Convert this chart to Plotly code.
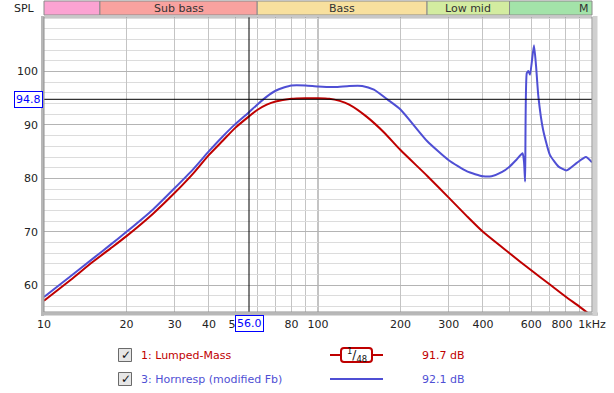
import plotly.graph_objects as go
import math

# ---------------- data ----------------
red_freq = [10, 12.5, 15, 17.5, 20, 25, 30, 35, 40, 45, 50, 56, 60, 65, 70, 80, 90, 100,
            110, 120, 130, 150, 175, 200, 250, 300, 350, 400, 500, 600, 700, 800, 900, 1000]
red_db = [57.1, 61.0, 64.3, 66.9, 69.2, 73.4, 77.3, 80.9, 84.4, 87.1, 89.5, 91.6, 92.8, 93.8,
          94.4, 94.9, 95.0, 95.0, 94.9, 94.5, 93.8, 91.6, 88.5, 85.3, 80.5, 76.4, 72.9, 70.0,
          66.0, 62.8, 60.2, 57.9, 56.0, 54.2]

blue_freq = [10, 12.5, 15, 17.5, 20, 25, 30, 35, 40, 45, 50, 56, 60, 65, 70, 75, 80, 90, 100,
             115, 130, 145, 160, 180, 200, 250, 300, 350, 400, 430, 470, 500, 530, 558,
             565, 570, 578, 586, 594, 614, 625, 637, 663, 702, 755, 808, 880, 950, 1000]
blue_db = [57.8, 61.7, 64.9, 67.6, 70.0, 74.2, 78.2, 81.7, 85.1, 87.9, 90.2, 92.4, 93.8, 95.3,
           96.4, 97.0, 97.4, 97.4, 97.2, 97.1, 97.3, 97.3, 96.6, 94.7, 92.9, 87.0, 83.4, 81.3,
           80.4, 80.4, 81.2, 82.2, 83.5, 84.7, 83.0, 79.4, 99.7, 100.1, 99.4, 104.9, 101.0,
           95.4, 89.1, 84.4, 82.2, 81.5, 82.9, 84.0, 83.0]

x_tick_vals = [10, 20, 30, 40, 50, 80, 100, 200, 300, 400, 600, 800, 1000]
x_tick_text = ["10", "20", "30", "40", "50", "80", "100", "200", "300", "400", "600",
               "800\u2007", "1kHz"]
x_grid_only = [60, 70, 90, 500, 700, 900]
y_tick_vals = [60, 70, 80, 90, 100]
y_tick_text = ["60", "70", "80", "90", "100"]

band_names = ["", "Sub bass", "Bass", "Low mid", "M"]
band_edges = [10, 16, 60, 250, 500, 1000]
band_colors = ["#fba3d2", "#f9a29f", "#f8e09e", "#d3eca0", "#a3e3a9"]

legend_labels = ["1: Lumped-Mass", "3: Hornresp (modified Fb)"]
legend_values = ["91.7 dB", "92.1 dB"]

cursor_freq = 56.0
cursor_db = 94.8

RED = "#bf0000"
BLUE = "#4f4fd4"
FONT = "DejaVu Sans"

# ---------------- geometry ----------------
W, H = 614, 393
L, R, T, B = 44, 592, 17, 312


def px(x):
    return (x - L) / (R - L)


def py(y):
    return (B - y) / (B - T)


def fx(f):
    return (math.log10(f) - 1) / 2


fig = go.Figure()
fig.add_trace(go.Scatter(x=red_freq, y=red_db, mode="lines",
                         line=dict(color=RED, width=2, shape="spline", smoothing=0.6),
                         hoverinfo="skip", showlegend=False))
fig.add_trace(go.Scatter(x=blue_freq, y=blue_db, mode="lines",
                         line=dict(color=BLUE, width=2, shape="spline", smoothing=0.5),
                         hoverinfo="skip", showlegend=False))

shapes = []
ann = []

# darker 100 Hz line and cursor lines
shapes.append(dict(type="line", xref="paper", yref="paper", x0=fx(100), x1=fx(100), y0=0, y1=1,
                   line=dict(color="#888888", width=1), layer="below"))
shapes.append(dict(type="line", xref="paper", yref="y", x0=0, x1=1, y0=cursor_db, y1=cursor_db,
                   line=dict(color="black", width=1)))
shapes.append(dict(type="line", xref="paper", yref="paper", x0=fx(cursor_freq), x1=fx(cursor_freq),
                   y0=0, y1=1, line=dict(color="black", width=1)))

# frame
shapes.append(dict(type="line", xref="paper", yref="paper", x0=px(42.5), x1=px(42.5), y0=py(316), y1=py(16),
                   line=dict(color="#b8b8b8", width=3)))
shapes.append(dict(type="line", xref="paper", yref="paper", x0=px(41), x1=px(598), y0=py(314), y1=py(314),
                   line=dict(color="#b8b8b8", width=3)))
shapes.append(dict(type="line", xref="paper", yref="paper", x0=px(595), x1=px(595), y0=py(316), y1=py(16),
                   line=dict(color="#d0d0d0", width=5)))
shapes.append(dict(type="rect", xref="paper", yref="paper", x0=0, x1=1, y0=0, y1=1,
                   line=dict(color="#909090", width=1)))

# band
for i, name in enumerate(band_names):
    x0 = fx(band_edges[i])
    x1 = fx(band_edges[i + 1])
    shapes.append(dict(type="rect", xref="paper", yref="paper", x0=x0, x1=x1, y0=py(15), y1=py(1),
                       fillcolor=band_colors[i], line=dict(color="#8a8a8a", width=1)))
    if name:
        if name == "M":
            ann.append(dict(xref="paper", yref="paper", x=px(591), y=py(8), text=name, showarrow=False,
                            xanchor="right", yanchor="middle", font=dict(family=FONT, size=11, color="#333")))
        else:
            ann.append(dict(xref="paper", yref="paper", x=(x0 + x1) / 2, y=py(8), text=name, showarrow=False,
                            xanchor="center", yanchor="middle", font=dict(family=FONT, size=11, color="#333")))
ann.append(dict(xref="paper", yref="paper", x=px(37), y=py(8), text="SPL", showarrow=False,
                xanchor="right", yanchor="middle", font=dict(family=FONT, size=11, color="#222")))

# cursor boxes
ann.append(dict(xref="paper", yref="y", x=px(43), y=cursor_db, text="%.1f" % cursor_db, showarrow=False,
                xanchor="right", yanchor="middle", bgcolor="white", bordercolor="#0000ff", borderwidth=1,
                borderpad=1, font=dict(family=FONT, size=11, color="#0000ff")))
ann.append(dict(xref="paper", yref="paper", x=fx(cursor_freq), y=py(315), text="%.1f" % cursor_freq,
                showarrow=False, xanchor="center", yanchor="top", bgcolor="white", bordercolor="#0000ff",
                borderwidth=1, borderpad=1, font=dict(family=FONT, size=11, color="#0000ff")))

# legend
rows = [355, 379]
colors = [RED, BLUE]
for i in range(2):
    yc = rows[i]
    shapes.append(dict(type="rect", xref="paper", yref="paper", x0=px(118.5), x1=px(131.5),
                       y0=py(yc + 6.5), y1=py(yc - 6.5), fillcolor="#e6e6e6",
                       line=dict(color="#6a6a6a", width=1)))
    ann.append(dict(xref="paper", yref="paper", x=px(125.5), y=py(yc), text="<b>✓</b>", showarrow=False,
                    xanchor="center", yanchor="middle", font=dict(family=FONT, size=12, color="#111")))
    ann.append(dict(xref="paper", yref="paper", x=px(139), y=py(yc), text=legend_labels[i], showarrow=False,
                    xanchor="left", yanchor="middle", font=dict(family=FONT, size=11, color=colors[i])))
    ann.append(dict(xref="paper", yref="paper", x=px(467), y=py(yc), text=legend_values[i], showarrow=False,
                    xanchor="right", yanchor="middle", font=dict(family=FONT, size=11, color=colors[i])))
    shapes.append(dict(type="line", xref="paper", yref="paper", x0=px(330), x1=px(383), y0=py(yc), y1=py(yc),
                       line=dict(color=colors[i], width=2)))

# smoothing badge (rounded box)
bx0, bx1, by0, by1, r = 341, 372, 348, 362, 3
path = ("M {a},{b} L {c},{b} Q {d},{b} {d},{e} L {d},{f} Q {d},{g} {c},{g} L {a},{g} "
        "Q {h},{g} {h},{f} L {h},{e} Q {h},{b} {a},{b} Z").format(
    a=px(bx0 + r), b=py(by0), c=px(bx1 - r), d=px(bx1), e=py(by0 + r), f=py(by1 - r), g=py(by1), h=px(bx0))
shapes.append(dict(type="path", xref="paper", yref="paper", path=path, fillcolor="white",
                   line=dict(color=RED, width=2)))
ann.append(dict(xref="paper", yref="paper", x=px(356.5), y=py(355), text="<sup>1</sup>/<sub>48</sub>",
                showarrow=False, xanchor="center", yanchor="middle",
                font=dict(family=FONT, size=12, color="#111")))

fig.update_layout(
    width=W, height=H,
    margin=dict(l=L, r=W - R, t=T, b=H - B, pad=0),
    paper_bgcolor="white", plot_bgcolor="white",
    showlegend=False,
    shapes=shapes, annotations=ann,
    xaxis=dict(type="log", range=[1, 3], tickmode="array", tickvals=x_tick_vals, ticktext=x_tick_text,
               tickangle=0,
               showgrid=True, gridcolor="#c4c4c4", gridwidth=1, zeroline=False, showline=False,
               ticks="", ticklabelstandoff=4, tickfont=dict(family=FONT, size=11, color="#222"),
               minor=dict(tickmode="array", tickvals=x_grid_only, showgrid=True,
                          gridcolor="#c4c4c4", ticks=""),
               automargin=False, fixedrange=True),
    yaxis=dict(range=[55, 110.2], tickmode="array", tickvals=y_tick_vals, ticktext=y_tick_text,
               showgrid=True, gridcolor="#b4b4b4", gridwidth=1, zeroline=False, showline=False,
               ticks="", ticklabelstandoff=5, tickfont=dict(family=FONT, size=11, color="#222"),
               minor=dict(tickmode="array", tickvals=list(range(56, 111, 2)), showgrid=True,
                          gridcolor="#dcdcdc", ticks=""),
               automargin=False, fixedrange=True),
)

fig.write_html("out.html", config={"displayModeBar": False, "staticPlot": True},
               post_script="document.body.style.margin='0';document.body.style.overflow='hidden';")
